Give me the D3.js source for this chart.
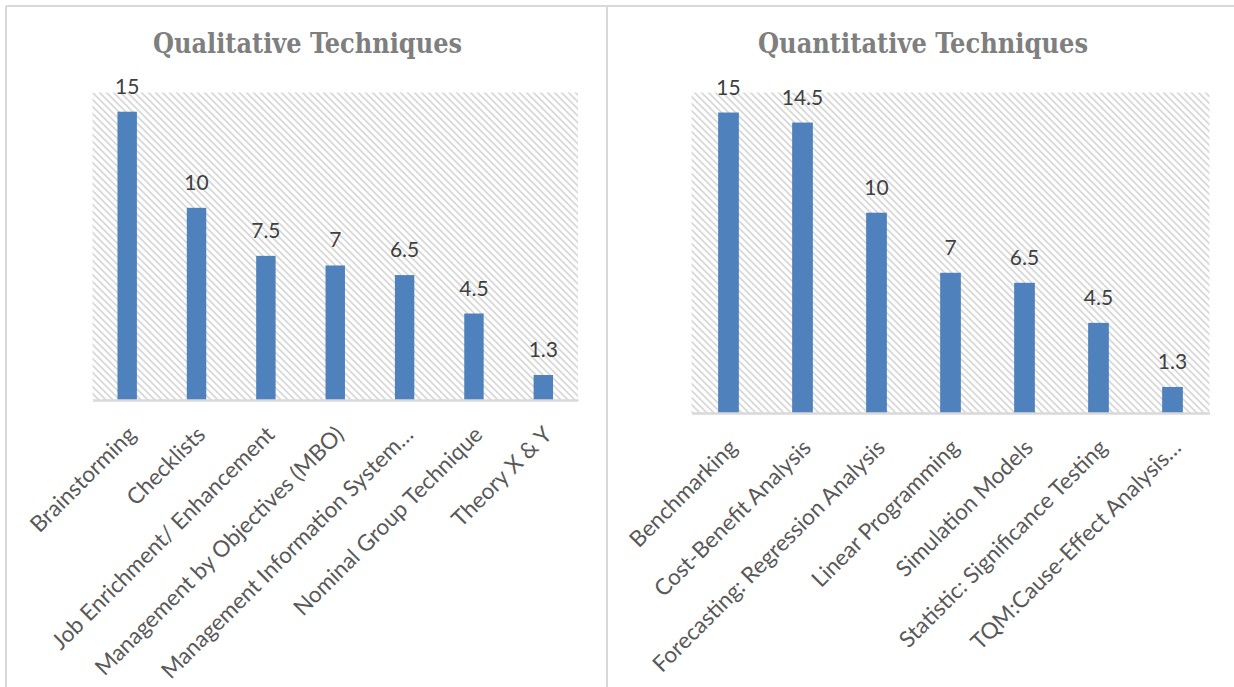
<!DOCTYPE html>
<html>
<head>
<meta charset="utf-8">
<script src="https://cdn.jsdelivr.net/npm/d3@7/dist/d3.min.js"></script>
<style>
  html, body { margin: 0; padding: 0; background: #fff; }
  svg { display: block; }
</style>
</head>
<body>
<svg id="chart" width="1234" height="687"></svg>
<script>
// Qualitative techniques
const qualCategories = [
  "Brainstorming",
  "Checklists",
  "Job Enrichment/ Enhancement",
  "Management by Objectives (MBO)",
  "Management Information System…",
  "Nominal Group Technique",
  "Theory X & Y"
];
const qualValues = [15, 10, 7.5, 7, 6.5, 4.5, 1.3];

// Quantitative techniques
const quantCategories = [
  "Benchmarking",
  "Cost-Benefit Analysis",
  "Forecasting: Regression Analysis",
  "Linear Programming",
  "Simulation Models",
  "Statistic: Significance Testing",
  "TQM:Cause-Effect Analysis…"
];
const quantValues = [15, 14.5, 10, 7, 6.5, 4.5, 1.3];

const titles = ["Qualitative Techniques", "Quantitative Techniques"];
const valueMax = 16;

const svg = d3.select("#chart");

// hatched plot-area fill
const defs = svg.append("defs");
const pat = defs.append("pattern")
  .attr("id", "hatch")
  .attr("patternUnits", "userSpaceOnUse")
  .attr("width", 7).attr("height", 7);
pat.append("rect").attr("width", 7).attr("height", 7).attr("fill", "#ffffff");
pat.append("path")
  .attr("d", "M-1,-1 L8,8 M-8,-1 L1,8 M6,-1 L15,8")
  .attr("stroke", "#d9d9d9")
  .attr("stroke-width", 1.8);

// chart frames
const frame = svg.append("g").attr("stroke", "#d9d9d9").attr("stroke-width", 2).attr("fill", "none");
frame.append("line").attr("x1", 6).attr("x2", 1234).attr("y1", 6).attr("y2", 6);
frame.append("line").attr("x1", 6).attr("x2", 6).attr("y1", 6).attr("y2", 687);
frame.append("line").attr("x1", 607).attr("x2", 607).attr("y1", 6).attr("y2", 687);

const panels = [
  { title: titles[0], cats: qualCategories, vals: qualValues,
    left: 92.5, right: 578, top: 92.5, bottom: 400, titleX: 307.5, titleW: 309 },
  { title: titles[1], cats: quantCategories, vals: quantValues,
    left: 691.5, right: 1209.5, top: 92.5, bottom: 413, titleX: 923, titleW: 330 }
];

panels.forEach(p => {
  const g = svg.append("g");

  g.append("text")
    .attr("x", p.titleX).attr("y", 53)
    .attr("text-anchor", "middle")
    .attr("font-family", "'DejaVu Serif', 'Liberation Serif', serif")
    .attr("font-weight", "bold")
    .attr("font-stretch", "condensed")
    .attr("font-size", 27)
    .attr("textLength", p.titleW)
    .attr("lengthAdjust", "spacingAndGlyphs")
    .attr("fill", "#7f7f7f")
    .text(p.title);

  const x = d3.scaleBand()
    .domain(p.cats)
    .range([p.left, p.right])
    .paddingInner(0.72).paddingOuter(0.36);

  const y = d3.scaleLinear()
    .domain([0, valueMax])
    .range([p.bottom, p.top]);

  g.append("rect")
    .attr("x", p.left).attr("y", p.top)
    .attr("width", p.right - p.left).attr("height", p.bottom - p.top)
    .attr("fill", "url(#hatch)");

  const data = p.cats.map((c, i) => ({ c, v: p.vals[i] }));

  g.selectAll("rect.bar").data(data).join("rect")
    .attr("class", "bar")
    .attr("x", d => x(d.c))
    .attr("width", x.bandwidth())
    .attr("y", d => y(d.v))
    .attr("height", d => y(0) - y(d.v))
    .attr("fill", "#4f81bd");

  g.selectAll("text.val").data(data).join("text")
    .attr("class", "val")
    .attr("x", d => x(d.c) + x.bandwidth() / 2)
    .attr("y", d => y(d.v) - 18)
    .attr("text-anchor", "middle")
    .attr("font-family", "Lato, 'Open Sans', sans-serif")
    .attr("font-size", 21)
    .attr("fill", "#404040")
    .text(d => d.v);

  const axis = g.append("g")
    .attr("transform", `translate(0,${p.bottom})`)
    .call(d3.axisBottom(x).tickSize(0).tickPadding(0));
  axis.select(".domain").attr("stroke", "#d9d9d9").attr("stroke-width", 2.5);
  axis.selectAll(".tick text")
    .attr("font-family", "Lato, 'Open Sans', sans-serif")
    .attr("font-size", 22.5)
    .attr("fill", "#595959")
    .attr("text-anchor", "end")
    .attr("dy", null)
    .attr("transform", "translate(10,36) rotate(-45)");
});
</script>
</body>
</html>
